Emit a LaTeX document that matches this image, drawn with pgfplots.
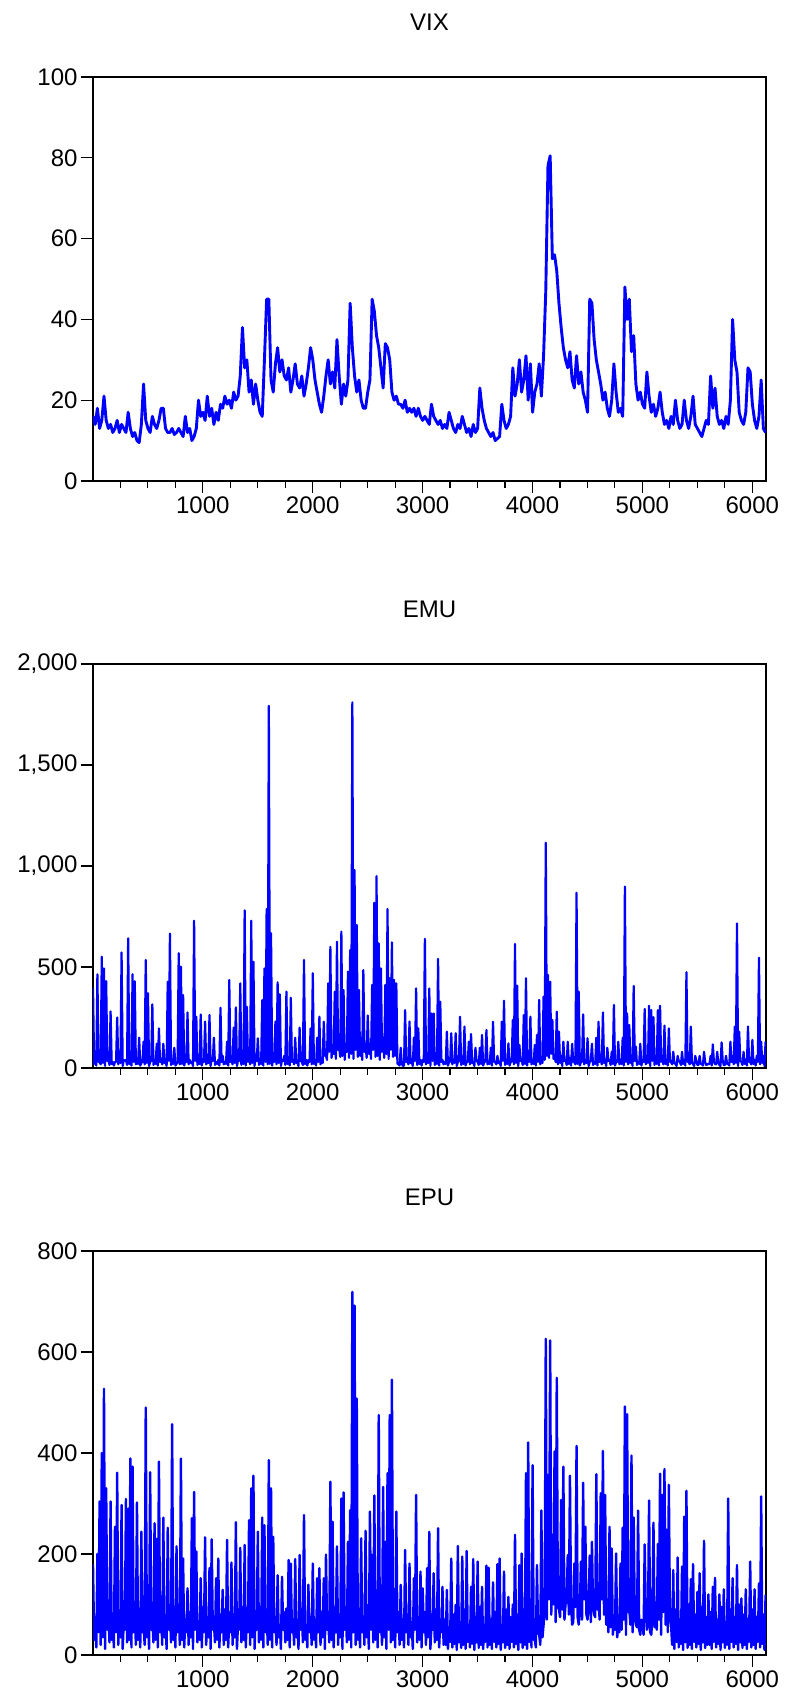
\documentclass[border=0pt]{standalone}
\usepackage{fontspec}
\setmainfont{Liberation Sans}
\usepackage{pgfplots}
\pgfplotsset{compat=1.18}
\newcommand{\fs}{\fontsize{24}{28}\selectfont}
\definecolor{evblue}{rgb}{0,0,1}
\pgfplotsset{
  myax/.style={
    scale only axis, width=673pt, height=404pt,
    xmin=1, xmax=6125,
    xtick={1000,2000,3000,4000,5000,6000},
    minor xtick={250,500,...,6000},
    tick align=outside,
    tick pos=left,
    major tick length=12pt, minor tick length=7pt,
    axis line style={line width=1.6pt},
    every tick/.style={black, line width=1.2pt},
    tick label style={font=\fs},
    /pgf/number format/assume math mode=true,
    xticklabel style={/pgf/number format/1000 sep={}},
    scaled ticks=false,
    title style={font=\fs, at={(0.5,1)}, anchor=base, yshift=40pt},
  },
  ser/.style={evblue, line join=round, mark=none},
}
\begin{document}
\begin{tikzpicture}
\path[use as bounding box] (0,0) rectangle (787pt,1708pt);
% ---------------- VIX ----------------
\begin{axis}[myax, at={(93pt,1227pt)}, anchor=south west, title={VIX},
  ymin=0, ymax=100, ytick={0,20,40,60,80,100}]
\addplot[ser, line width=2.9pt] table[x expr=\coordindex*20+1, y index=0, header=false, row sep=\\] {
16\\14\\18\\13\\15\\21\\15\\13\\14\\12\\13\\15\\12\\14\\13\\12\\17\\13\\11\\12\\
10\\9.5\\14\\24\\15\\13\\12\\16\\14\\13\\15\\18\\18\\13\\12\\12\\13\\11.5\\12\\13\\
12\\11\\16\\12\\13\\10\\11\\13\\20\\16\\17\\15\\21\\16\\18\\14\\17\\15\\19\\18\\
21\\19\\20\\18\\22\\20\\21\\26\\38\\28\\30\\22\\25\\19\\24\\20\\17\\16\\30\\45\\
45\\25\\22\\29\\33\\27\\30\\26\\25\\28\\22\\25\\29\\24\\23\\26\\21\\24\\28\\33\\
30\\25\\22\\19\\17\\21\\26\\30\\24\\27\\23\\35\\26\\19\\24\\21\\25\\44\\33\\26\\
22\\25\\20\\18\\18\\22\\25\\45\\42\\36\\33\\28\\23\\34\\33\\30\\22\\20\\21\\19\\
19\\18\\20\\17\\18\\17\\18\\16\\18\\16\\15\\16\\15\\14\\19\\16\\15\\14\\15\\13\\
14\\13\\17\\15\\13\\12\\14\\13\\16\\14\\12\\13\\11\\14\\12\\13\\23\\18\\15\\13\\
12\\11\\12\\10\\10.5\\11\\19\\15\\13\\14\\16\\28\\21\\24\\30\\22\\25\\31\\20\\29\\
17\\22\\24\\29\\21\\31\\47\\78\\80.5\\55\\56\\52\\44\\38\\33\\30\\28\\32\\25\\23\\
31\\24\\27\\22\\20\\17\\45\\44\\35\\30\\27\\24\\20\\22\\18\\16\\20\\29\\22\\17\\
18\\16\\48\\40\\45\\32\\36\\24\\20\\22\\19\\18\\27\\21\\17\\19\\16\\18\\22\\17\\
14\\15\\13\\16\\14\\20\\15\\13\\14\\20\\15\\13\\16\\21\\14\\13\\12\\11\\13\\15\\
14\\26\\18\\23\\16\\14\\15\\13\\16\\14\\20\\40\\30\\27\\17\\15\\14\\17\\28\\27\\
19\\15\\13\\16\\25\\13\\12\\
};
\end{axis}
% ---------------- EMU ----------------
\begin{axis}[myax, at={(93pt,640pt)}, anchor=south west, title={EMU},
  ymin=0, ymax=2000, ytick={0,500,1000,1500,2000},
  yticklabel style={/pgf/number format/1000 sep={,}}]
\addplot[ser, line width=2.2pt] table[x expr=\coordindex*10+1, y index=0, header=false, row sep=\\] {
398\\20\\40\\12\\464\\30\\30\\18\\551\\25\\493\\10\\430\\35\\40\\15\\280\\20\\30\\12\\30\\30\\250\\18\\40\\25\\572\\10\\40\\35\\40\\15\\642\\20\\30\\12\\464\\30\\430\\18\\
30\\20\\150\\12\\25\\30\\130\\18\\535\\25\\370\\10\\30\\35\\315\\15\\40\\20\\120\\12\\196\\30\\40\\18\\120\\25\\30\\10\\427\\35\\665\\15\\30\\20\\100\\12\\20\\30\\568\\18\\
502\\20\\361\\12\\40\\30\\275\\18\\40\\25\\30\\10\\729\\35\\254\\15\\30\\20\\265\\12\\40\\30\\230\\18\\30\\25\\262\\10\\50\\35\\150\\15\\30\\20\\40\\12\\298\\30\\60\\18\\
30\\20\\130\\12\\436\\30\\40\\18\\200\\25\\300\\10\\40\\35\\419\\15\\60\\20\\780\\12\\303\\30\\60\\18\\729\\25\\526\\10\\60\\35\\147\\15\\40\\20\\336\\12\\493\\30\\787\\18\\
1793\\20\\667\\12\\60\\30\\230\\18\\424\\25\\365\\10\\40\\35\\60\\15\\378\\20\\40\\12\\348\\30\\40\\18\\150\\25\\30\\10\\200\\35\\30\\15\\535\\20\\40\\12\\40\\30\\196\\18\\
469\\20\\40\\12\\150\\30\\254\\18\\40\\25\\229\\60\\60\\40\\419\\80\\600\\50\\80\\70\\378\\45\\625\\90\\100\\55\\675\\60\\386\\40\\120\\80\\477\\50\\584\\70\\1810\\45\\980\\90\\
708\\55\\386\\60\\150\\40\\485\\80\\120\\50\\260\\70\\120\\45\\411\\90\\818\\55\\950\\60\\617\\40\\493\\80\\150\\50\\411\\70\\787\\45\\444\\90\\622\\55\\436\\60\\419\\20\\20\\12\\
100\\20\\10\\12\\287\\30\\40\\18\\230\\25\\30\\10\\150\\35\\394\\15\\196\\20\\40\\12\\40\\30\\639\\18\\40\\25\\394\\10\\270\\35\\270\\15\\40\\20\\540\\12\\328\\30\\40\\18\\
30\\20\\180\\12\\30\\30\\172\\18\\40\\25\\172\\10\\30\\35\\254\\15\\40\\20\\205\\12\\30\\30\\130\\18\\168\\25\\30\\10\\100\\35\\30\\15\\100\\20\\163\\12\\30\\30\\188\\18\\
30\\20\\100\\12\\229\\30\\30\\18\\60\\25\\30\\10\\229\\35\\333\\15\\40\\20\\122\\12\\30\\30\\238\\18\\614\\25\\408\\10\\114\\35\\40\\15\\262\\20\\444\\12\\60\\30\\254\\18\\
40\\20\\114\\12\\163\\30\\337\\18\\40\\25\\353\\40\\1115\\60\\460\\50\\427\\70\\238\\45\\60\\30\\279\\18\\180\\25\\60\\10\\130\\35\\40\\15\\130\\20\\50\\12\\120\\30\\30\\18\\
868\\20\\378\\12\\30\\30\\265\\18\\40\\25\\147\\10\\30\\35\\120\\15\\30\\20\\150\\12\\229\\30\\40\\18\\275\\25\\40\\10\\100\\35\\40\\15\\80\\20\\312\\12\\30\\30\\130\\18\\
40\\20\\150\\12\\898\\30\\270\\18\\213\\25\\40\\10\\406\\35\\106\\15\\30\\20\\120\\12\\40\\30\\292\\18\\60\\25\\308\\10\\287\\35\\251\\15\\60\\20\\287\\12\\308\\30\\60\\18\\
210\\20\\40\\12\\196\\30\\30\\18\\80\\25\\20\\10\\60\\35\\30\\15\\80\\20\\40\\12\\474\\30\\30\\18\\205\\25\\20\\10\\60\\35\\15\\15\\60\\20\\20\\12\\80\\30\\15\\18\\
20\\20\\60\\12\\117\\30\\20\\18\\80\\25\\15\\10\\127\\35\\15\\15\\60\\20\\20\\12\\130\\30\\60\\18\\205\\25\\716\\10\\180\\35\\30\\15\\80\\20\\40\\12\\205\\30\\30\\18\\
139\\20\\40\\12\\60\\30\\546\\18\\130\\25\\60\\10\\130\\
};
\end{axis}
% ---------------- EPU ----------------
\begin{axis}[myax, at={(93pt,53pt)}, anchor=south west, title={EPU},
  ymin=0, ymax=800, ytick={0,200,400,600,800}]
\addplot[ser, line width=2.4pt] table[x expr=\coordindex*10+1, y index=0, header=false, row sep=\\] {
180\\30\\75\\15\\200\\45\\304\\20\\400\\35\\527\\12\\330\\50\\90\\25\\304\\30\\70\\15\\254\\45\\361\\20\\85\\35\\297\\12\\65\\50\\309\\25\\290\\30\\389\\15\\373\\45\\100\\20\\
302\\30\\80\\15\\244\\45\\65\\20\\490\\35\\95\\12\\362\\50\\70\\25\\261\\30\\230\\15\\383\\45\\85\\20\\272\\35\\60\\12\\252\\50\\90\\25\\457\\30\\75\\15\\215\\45\\100\\20\\
389\\30\\191\\15\\70\\45\\132\\20\\85\\35\\271\\12\\323\\50\\205\\25\\60\\30\\152\\15\\95\\45\\233\\20\\75\\35\\172\\12\\229\\50\\65\\25\\152\\30\\191\\15\\80\\45\\129\\20\\
90\\30\\228\\15\\70\\45\\183\\20\\80\\35\\263\\12\\65\\50\\212\\25\\95\\30\\218\\15\\75\\45\\267\\20\\330\\35\\355\\12\\85\\50\\244\\25\\70\\30\\272\\15\\257\\45\\90\\20\\
386\\30\\330\\15\\234\\45\\75\\20\\158\\35\\60\\12\\155\\50\\85\\25\\92\\30\\188\\15\\181\\45\\70\\20\\190\\35\\65\\12\\198\\50\\90\\25\\277\\30\\60\\15\\139\\45\\75\\20\\
181\\30\\70\\15\\152\\45\\172\\20\\85\\35\\152\\12\\199\\50\\75\\25\\343\\30\\264\\15\\90\\45\\215\\20\\80\\35\\310\\12\\322\\50\\95\\25\\224\\30\\287\\15\\719\\45\\692\\20\\
508\\30\\90\\15\\231\\45\\75\\20\\246\\35\\85\\12\\284\\50\\198\\25\\316\\30\\100\\15\\475\\45\\80\\20\\333\\35\\224\\12\\360\\50\\475\\25\\545\\30\\70\\15\\284\\45\\85\\20\\
139\\30\\70\\15\\208\\45\\80\\20\\181\\35\\65\\12\\152\\50\\317\\25\\75\\30\\165\\15\\132\\45\\85\\20\\172\\35\\244\\12\\60\\50\\162\\25\\90\\30\\251\\15\\70\\45\\135\\20\\
70\\20\\129\\12\\55\\26\\191\\15\\80\\22\\99\\10\\216\\25\\65\\14\\195\\20\\90\\12\\206\\26\\60\\15\\135\\22\\190\\10\\75\\25\\185\\14\\95\\20\\135\\12\\60\\26\\177\\15\\
173\\20\\70\\12\\144\\26\\85\\15\\180\\22\\191\\10\\60\\25\\165\\14\\90\\20\\115\\12\\75\\26\\100\\15\\238\\22\\80\\10\\178\\25\\201\\14\\90\\20\\360\\12\\421\\26\\100\\15\\
376\\30\\30\\15\\178\\45\\40\\20\\286\\35\\60\\90\\626\\70\\356\\110\\623\\80\\238\\100\\403\\65\\549\\95\\90\\75\\307\\90\\373\\70\\100\\110\\198\\80\\355\\100\\60\\65\\181\\95\\
414\\75\\60\\90\\185\\70\\341\\110\\254\\80\\70\\100\\197\\65\\224\\95\\80\\75\\358\\90\\110\\70\\320\\110\\404\\80\\317\\60\\110\\45\\254\\55\\211\\40\\60\\50\\201\\35\\60\\45\\
181\\50\\252\\70\\492\\40\\477\\85\\90\\60\\395\\45\\272\\75\\60\\55\\286\\50\\40\\70\\60\\40\\219\\85\\50\\60\\306\\45\\40\\75\\262\\55\\70\\50\\220\\70\\359\\40\\317\\85\\
368\\60\\248\\45\\337\\75\\60\\20\\168\\12\\90\\26\\193\\15\\70\\22\\175\\10\\274\\25\\325\\14\\100\\20\\150\\12\\180\\26\\80\\15\\125\\22\\162\\10\\95\\25\\226\\14\\75\\20\\
120\\20\\85\\12\\135\\26\\153\\15\\70\\22\\120\\10\\95\\25\\130\\14\\65\\20\\310\\12\\90\\26\\152\\15\\75\\22\\178\\10\\100\\25\\112\\14\\80\\20\\130\\12\\70\\26\\185\\15\\
90\\20\\130\\12\\75\\26\\142\\15\\314\\22\\80\\10\\119\\
};
\end{axis}
\end{tikzpicture}
\end{document}
